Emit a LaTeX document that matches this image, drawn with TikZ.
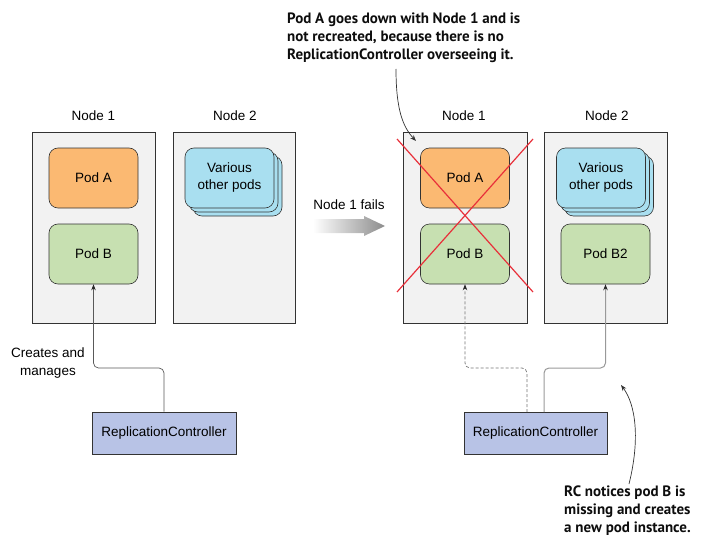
\documentclass[tikz,border=0pt]{standalone}
\usepackage{fontspec}
\setmainfont{Liberation Sans}
\newfontfamily\annofont{PT Sans}
\usetikzlibrary{arrows.meta,calc}
\definecolor{nodebg}{HTML}{F2F2F2}
\definecolor{boxline}{HTML}{333333}
\definecolor{podA}{HTML}{FBB972}
\definecolor{podB}{HTML}{C7E0B1}
\definecolor{podO}{HTML}{A9DFF0}
\definecolor{rcfill}{HTML}{B8C3E6}
\definecolor{xred}{HTML}{E8303A}
\tikzset{
  nodebox/.style={draw=boxline, fill=nodebg, line width=0.8pt, minimum width=123pt, minimum height=191pt, inner sep=0pt},
  pod/.style={draw=boxline, line width=0.6pt, rounded corners=9pt, minimum width=89pt, minimum height=60pt, inner sep=0pt, font=\fontsize{13.5}{16}\selectfont},
  rcbox/.style={draw=boxline, fill=rcfill, line width=0.8pt, minimum width=144pt, minimum height=42pt, inner sep=0pt, font=\fontsize{13.5}{16}\selectfont},
  lbl/.style={font=\fontsize{13.5}{16}\selectfont, inner sep=0pt},
  anno/.style={font=\annofont\bfseries\fontsize{15}{18}\selectfont, align=left, inner sep=0pt, text=black!95},
  conn/.style={draw=black!65, line width=0.7pt, rounded corners=5pt, -{Stealth[length=6pt,width=4.5pt]}},
  tipdark/.style={-{Stealth[length=6pt,width=4.5pt,color=black!85]}},
  cross/.style={draw=xred, line width=1.2pt}
}
\begin{document}
\begin{tikzpicture}[x=1pt,y=-1pt]
\useasboundingbox (0,0) rectangle (705,551);
% ---------- left side ----------
\node[lbl] (l1lab) at (93.5,116) {Node 1};
\node[lbl] (l2lab) at (235,116) {Node 2};
\node[nodebox] (ln1) at (93.5,227.5) {};
\node[nodebox, minimum width=122pt] (ln2) at (234,227.5) {};
\node[pod, fill=podA] (lpa) at (93.5,178) {Pod A};
\node[pod, fill=podB] (lpb) at (93.5,254) {Pod B};
\node[pod, fill=podO] (lvo3) at (237.5,186) {};
\node[pod, fill=podO] (lvo2) at (233.5,182) {};
\node[pod, fill=podO, align=center, font=\fontsize{13.5}{17}\selectfont] (lvo) at (229.5,178) {Various\\other pods};
\node[rcbox] (rc1) at (164,433) {ReplicationController};
\draw[conn, tipdark] (rc1.north) -- (rc1.north |- 0,368) -| (lpb.south);
\node[lbl, align=center, font=\fontsize{13.5}{18}\selectfont] (cm) at (48,363) {Creates and\\manages};
% ---------- middle arrow ----------
\node[lbl] (fails) at (349,205) {Node 1 fails};
\shade[left color=white, right color=black!45] (313,219) -- (364,219) -- (364,216) -- (385,226) -- (364,236) -- (364,233) -- (313,233) -- cycle;
% ---------- right side ----------
\node[lbl] (r1lab) at (464,116) {Node 1};
\node[lbl] (r2lab) at (607,116) {Node 2};
\node[nodebox, minimum width=124pt] (rn1) at (465,227.5) {};
\node[nodebox] (rn2) at (605.5,227.5) {};
\node[pod, fill=podA] (rpa) at (465,178) {Pod A};
\node[pod, fill=podB] (rpb) at (465,254) {Pod B};
\node[pod, fill=podO] (rvo3) at (609,186) {};
\node[pod, fill=podO] (rvo2) at (605,182) {};
\node[pod, fill=podO, align=center, font=\fontsize{13.5}{17}\selectfont] (rvo) at (601,178) {Various\\other pods};
\node[pod, fill=podB] (rpb2) at (605.5,254) {Pod B2};
\draw[cross] (397,139) -- (533,292);
\draw[cross] (533,139) -- (397,292);
\node[rcbox, minimum width=143pt] (rc2) at (535.5,433) {ReplicationController};
\coordinate (dstart) at (527,412);
\coordinate (sstart) at (544,412);
\draw[conn, draw=black!55, dash pattern=on 3pt off 2pt, tipdark] (dstart) -- (dstart |- 0,368) -| (rpb.south);
\draw[conn, draw=black!40, line width=1pt, tipdark] (sstart) -- (sstart |- 0,368) -| (rpb2.south);
% ---------- annotations ----------
\node[anno, anchor=north west] (topnote) at (287,13) {Pod A goes down with Node 1 and is\\not recreated, because there is no\\ReplicationController overseeing it.};
\coordinate (ta) at (396,69);
\coordinate (tb) at (416,141);
\draw[line width=0.7pt, black!80, -{Stealth[length=6pt,width=4.5pt]}] (ta) .. controls (396,110) and (403,127) .. (tb);
\node[anno, anchor=north west] (botnote) at (564,486) {RC notices pod B is\\missing and creates\\a new pod instance.};
\coordinate (ba) at (629,484);
\coordinate (bb) at (621,385);
\draw[line width=0.7pt, black!80, -{Stealth[length=6pt,width=4.5pt]}] (ba) .. controls (640,440) and (636,405) .. (bb);
\end{tikzpicture}
\end{document}
